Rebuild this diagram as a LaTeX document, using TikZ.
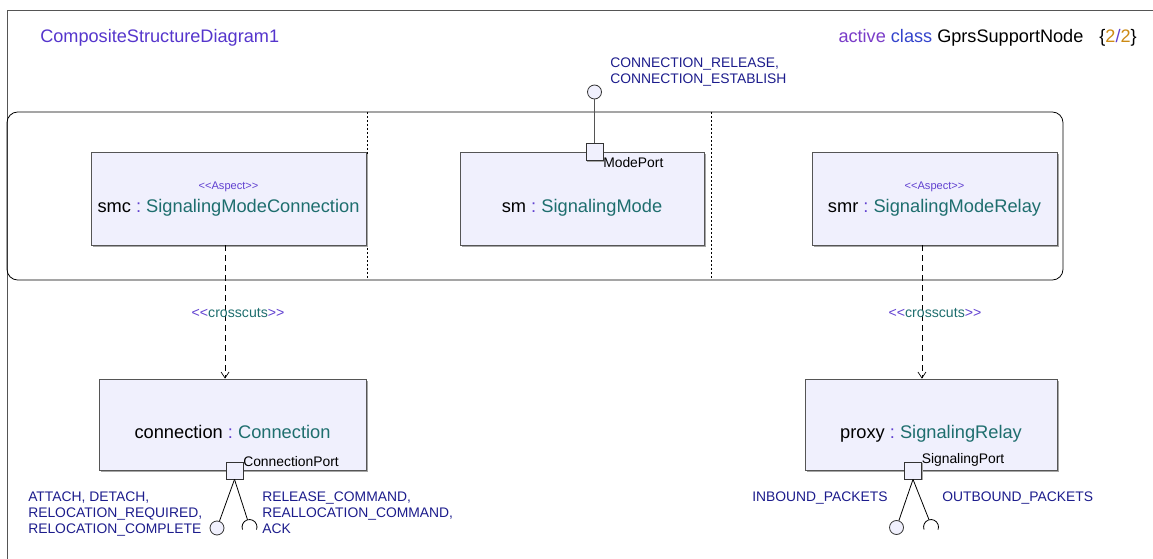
\documentclass[tikz,border=0pt]{standalone}
\usepackage{fontspec}
\setmainfont{Liberation Sans}
\usetikzlibrary{arrows.meta, positioning, calc, shadows}
\definecolor{partfill}{HTML}{F0F0FD}
\definecolor{frameline}{HTML}{555555}
\definecolor{titleblue}{HTML}{5535CC}
\definecolor{kwpurple}{HTML}{7A3CC8}
\definecolor{kwblue}{HTML}{3344CC}
\definecolor{pageorange}{HTML}{CC8A14}
\definecolor{signavy}{HTML}{1C1C8C}
\definecolor{typeteal}{HTML}{1E6E6E}
\definecolor{colonpurple}{HTML}{6040D0}
\newcommand{\partlbl}[2]{#1\ \textcolor{colonpurple}{:}\ \textcolor{typeteal}{#2}}
\newcommand{\stereo}[1]{\textcolor{colonpurple}{<{}<}\textcolor{typeteal}{#1}\textcolor{colonpurple}{>{}>}}
\tikzset{
  partbox/.style={draw=frameline, fill=partfill, line width=0.6pt,
    drop shadow={shadow xshift=1.4pt, shadow yshift=-1.4pt, fill=black!35, opacity=1}},
  parttext/.style={font=\fontsize{13.7}{16}\selectfont, inner sep=0pt, anchor=base},
  aspecttext/.style={font=\fontsize{8.3}{10}\selectfont, text=colonpurple, inner sep=0pt, anchor=base},
  portbox/.style={draw=black!80, fill=partfill, line width=0.6pt, minimum size=12.75pt, inner sep=0pt,
    drop shadow={shadow xshift=0.9pt, shadow yshift=-0.9pt, fill=black!35, opacity=1}},
  portlabel/.style={font=\fontsize{10.4}{12}\selectfont, inner sep=0pt, anchor=south west},
  ball/.style={circle, draw=black!80, fill=partfill, line width=0.6pt, minimum size=10.5pt, inner sep=0pt},
  siglist/.style={font=\fontsize{10.4}{12}\selectfont, text=signavy, align=left, inner sep=0pt},
  crosscut/.style={dash pattern=on 4.5pt off 3pt, line width=0.5pt, -{Straight Barb[length=4.5pt, width=6pt]}},
  divider/.style={dash pattern=on 1.5pt off 1.5pt, line width=0.5pt},
}
\begin{document}
\begin{tikzpicture}[x=0.75pt, y=-0.75pt]
  \useasboundingbox (0,0) rectangle (1153,559);
  % frame and header
  \draw[frameline, line width=0.7pt] (7,559) -- (7,10) -- (1153,10);
  \node[font=\fontsize{13.6}{16}\selectfont, text=titleblue, anchor=west, inner sep=0pt] (title) at (40,38) {CompositeStructureDiagram1};
  \node[font=\fontsize{13.6}{16}\selectfont, anchor=east, inner sep=0pt] (header) at (1137,38)
    {\textcolor{kwpurple}{active} \textcolor{kwblue}{class} GprsSupportNode\hspace{12pt}\{\textcolor{pageorange}{2}\textcolor{colonpurple}{/}\textcolor{pageorange}{2}\}};
  % composite part area
  \draw[black, line width=0.6pt, rounded corners=8pt] (7,112) rectangle (1063,280);
  \draw[divider] (367,112) -- (367,280);
  \draw[divider] (711,112) -- (711,280);
  % parts
  \node[partbox, minimum width=275*0.75pt, minimum height=93*0.75pt] (smc) at (228.5,198.5) {};
  \node[partbox, minimum width=244*0.75pt, minimum height=93*0.75pt] (sm) at (582,198.5) {};
  \node[partbox, minimum width=245*0.75pt, minimum height=93*0.75pt] (smr) at (934.5,198.5) {};
  \node[partbox, minimum width=267*0.75pt, minimum height=91*0.75pt] (conn) at (232.5,424.5) {};
  \node[partbox, minimum width=252*0.75pt, minimum height=91*0.75pt] (proxy) at (931,424.5) {};
  \node[aspecttext] (smcaspect) at ([yshift=6.75pt]smc.center) {<{}<Aspect>{}>};
  \node[parttext] (smclbl) at ([yshift=-10.5pt]smc.center) {\partlbl{smc}{SignalingModeConnection}};
  \node[parttext] (smlbl) at ([yshift=-10.5pt]sm.center) {\partlbl{sm}{SignalingMode}};
  \node[aspecttext] (smraspect) at ([yshift=6.75pt]smr.center) {<{}<Aspect>{}>};
  \node[parttext] (smrlbl) at ([yshift=-10.5pt]smr.center) {\partlbl{smr}{SignalingModeRelay}};
  \node[parttext] (connlbl) at ([yshift=-10.5pt]conn.center) {\partlbl{connection}{Connection}};
  \node[parttext] (proxylbl) at ([yshift=-10.5pt]proxy.center) {\partlbl{proxy}{SignalingRelay}};
  % crosscuts dependencies
  \draw[crosscut] ([xshift=-2.6pt]smc.south) -- ([xshift=-2.6pt]smc.south |- conn.north)
    node[midway, xshift=9.75pt, yshift=-1pt, font=\fontsize{10.6}{12}\selectfont] (cclbl1) {\stereo{crosscuts}};
  \draw[crosscut] ([xshift=-9.4pt]smr.south) -- ([xshift=-9.4pt]smr.south |- proxy.north)
    node[midway, xshift=9.75pt, yshift=-1pt, font=\fontsize{10.6}{12}\selectfont] (cclbl2) {\stereo{crosscuts}};
  % ModePort
  \node[portbox] (modeport) at (594.5,152) {};
  \node[portlabel] (modeportlbl) at (603,168) {ModePort};
  \node[ball] (modeball) at (594.5,92) {};
  \draw[frameline, line width=0.7pt] (modeport.north) -- (modeball.south);
  \node[siglist, anchor=north west] (modesigs) at (610,57.5) {CONNECTION\_RELEASE,\\CONNECTION\_ESTABLISH};
  % ConnectionPort
  \node[portbox] (connport) at (234.5,470.5) {};
  \node[portlabel] (connportlbl) at (243,467) {ConnectionPort};
  \node[ball] (connball) at (217,528) {};
  \coordinate (connsock) at (249.5,527);
  \draw[line width=0.6pt] (connport.south) -- (connball);
  \draw[line width=0.6pt] (connport.south) -- ($(connsock)+(-2,-7.3)$);
  \draw[line width=0.6pt] ($(connsock)+(-7,2.56)$) arc[start angle=200, end angle=-20, radius=5.6pt];
  \node[siglist, anchor=north west] (connin) at (28,491.5) {ATTACH, DETACH,\\RELOCATION\_REQUIRED,\\RELOCATION\_COMPLETE};
  \node[siglist, anchor=north west] (connout) at (262,491.5) {RELEASE\_COMMAND,\\REALLOCATION\_COMMAND,\\ACK};
  % SignalingPort
  \node[portbox] (sigport) at (913,470.5) {};
  \node[portlabel] (sigportlbl) at (921.5,467) {SignalingPort};
  \node[ball] (sigball) at (896.5,527.5) {};
  \coordinate (sigsock) at (931,527);
  \draw[line width=0.6pt] (sigport.south) -- (sigball);
  \draw[line width=0.6pt] (sigport.south) -- ($(sigsock)+(-2,-7.3)$);
  \draw[line width=0.6pt] ($(sigsock)+(-7,2.56)$) arc[start angle=200, end angle=-20, radius=5.6pt];
  \node[siglist, anchor=north west] (sigin) at (752,491.5) {INBOUND\_PACKETS};
  \node[siglist, anchor=north west] (sigout) at (942,491.5) {OUTBOUND\_PACKETS};
\end{tikzpicture}
\end{document}
